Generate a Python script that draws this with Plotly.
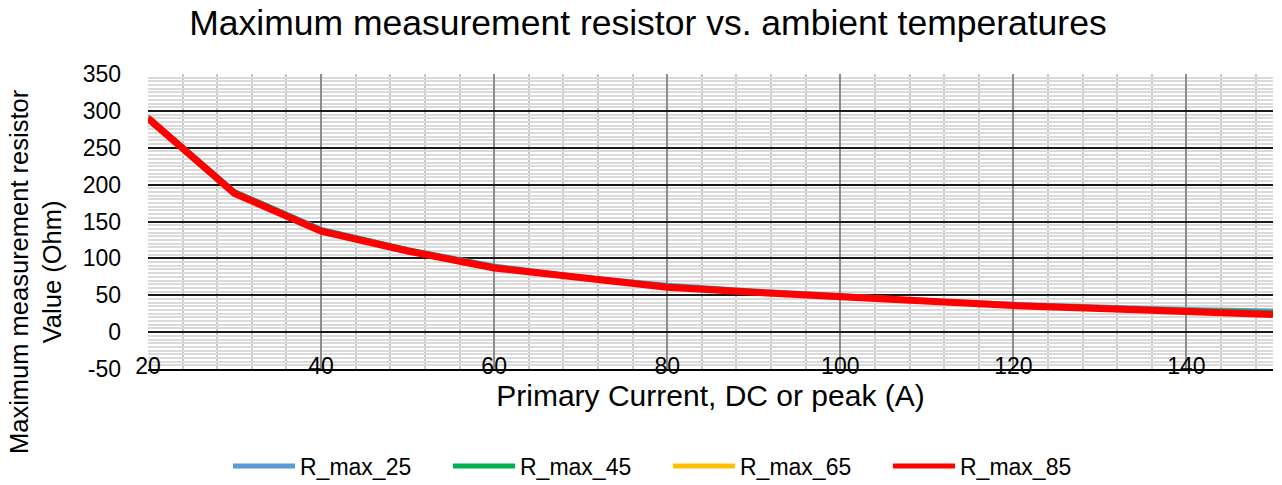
import plotly.graph_objects as go

current = [20, 30, 40, 50, 60, 70, 80, 90, 100, 110, 120, 130, 140, 150]
r_max_25 = [293, 192, 141, 113, 91, 76, 65, 57, 51, 44, 39, 35, 32, 30]
r_max_45 = [293, 192, 140, 113, 90, 75, 64, 56, 50, 43, 38, 34, 31, 28]
r_max_65 = [292, 190, 139, 111, 89, 74, 62, 55, 49, 42, 37, 33, 30, 26]
r_max_85 = [290, 188, 137, 110, 87, 73, 61, 54, 48, 41, 36, 32, 29, 24]

series_names = ["R_max_25", "R_max_45", "R_max_65", "R_max_85"]
series_values = [r_max_25, r_max_45, r_max_65, r_max_85]
colors = ["#5B9BD5", "#00B050", "#FFC000", "#FF0000"]
widths = [3, 3, 3, 7]

y_ticks = [-50, 0, 50, 100, 150, 200, 250, 300, 350]
y_tick_labels = ["-50", "0", "50", "100", "150", "200", "250", "300", "350"]

FONT = "Liberation Sans, Arial, sans-serif"

W, H = 1282, 485


def X(px):
    return px / W


def Y(py):
    return 1 - py / H


fig = go.Figure()
for name, vals, c, w in zip(series_names, series_values, colors, widths):
    fig.add_trace(go.Scatter(x=current, y=vals, mode="lines", name=name,
                             line=dict(color=c, width=w), showlegend=False,
                             legendgroup=name))
# legend entries (uniform sample thickness as in the reference legend)
for name, c in zip(series_names, colors):
    fig.add_trace(go.Scatter(x=[None], y=[None], mode="lines", name=name,
                             line=dict(color=c, width=5), legendgroup=name))

ml, mt = 148, 74
mr = W - 1273
mb = H - 369
plot_w = W - ml - mr
plot_h = H - mt - mb

fig.update_layout(
    width=W, height=H,
    margin=dict(l=ml, r=mr, t=mt, b=mb, autoexpand=False),
    paper_bgcolor="white", plot_bgcolor="white",
    font=dict(family=FONT, color="black"),
    title=dict(text="Maximum measurement resistor vs. ambient temperatures",
               x=X(648), xanchor="center", y=Y(23), yanchor="middle",
               font=dict(size=35.5, family=FONT, color="black")),
    showlegend=True,
    legend=dict(orientation="h", xref="container", yref="container",
                x=X(668), xanchor="center", y=Y(466), yanchor="middle",
                font=dict(size=23, family=FONT), entrywidth=143,
                itemwidth=62),
    annotations=[dict(text="Maximum measurement resistor<br>Value (Ohm)",
                      xref="paper", yref="paper", textangle=-90,
                      x=-(148 - 35) / plot_w, y=(369 - 272) / plot_h,
                      xanchor="center", yanchor="middle",
                      showarrow=False, font=dict(size=25.5, family=FONT))],
)

fig.update_xaxes(
    range=[20, 150], tick0=20, dtick=20, showgrid=True, gridcolor="#8c8c8c", gridwidth=2,
    minor=dict(dtick=4, tick0=20, showgrid=True, gridcolor="#c8c8c8", gridwidth=2),
    showline=True, linecolor="black", linewidth=2, ticks="", zeroline=False,
    tickfont=dict(size=23, family=FONT), ticklabelstandoff=-25, automargin=False,
    title=dict(text="Primary Current, DC or peak (A)", font=dict(size=30, family=FONT), standoff=0),
)
fig.update_yaxes(
    range=[-50, 350], tickmode="array", tickvals=y_ticks, ticktext=y_tick_labels,
    showgrid=True, gridcolor="#1a1a1a", gridwidth=2,
    minor=dict(dtick=5, tick0=0, showgrid=True, gridcolor="#dadada", gridwidth=2),
    showline=False, ticks="", zeroline=False, automargin=False,
    tickfont=dict(size=23, family=FONT), ticklabelstandoff=26,
)

fig.write_html("out.html", config={"displayModeBar": False},
               post_script="document.body.style.margin='0px';")
